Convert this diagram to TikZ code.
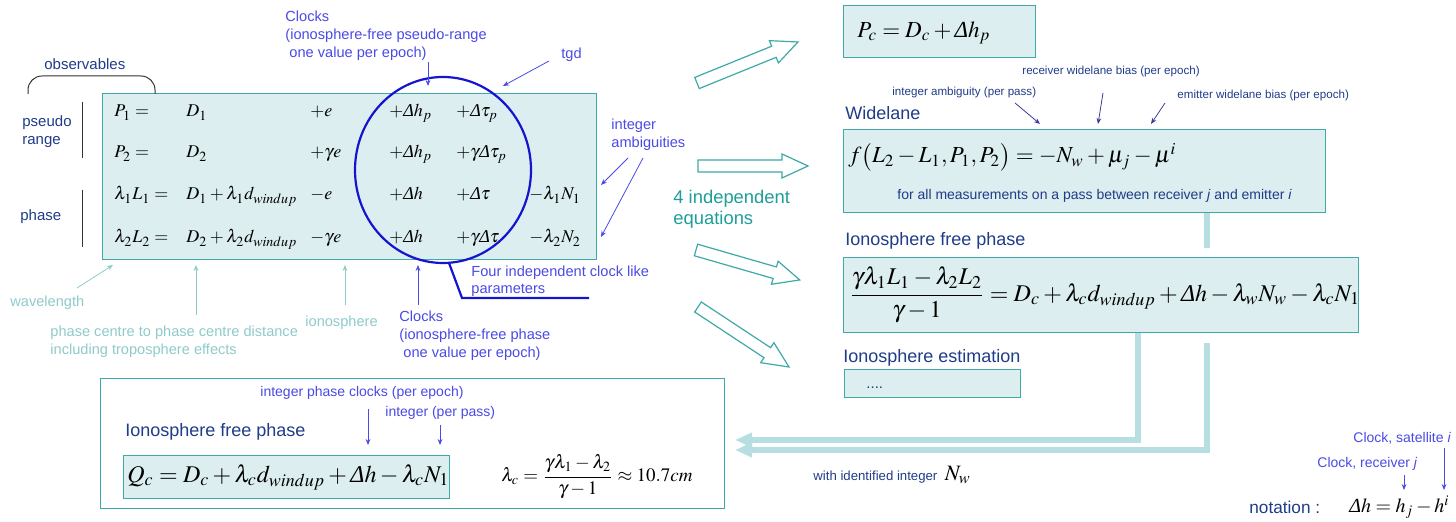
\documentclass[tikz,border=0pt]{standalone}
\usepackage{amsmath}
\usepackage{mathptmx}
\usepackage{fontspec}
\setmainfont{Liberation Sans}
\newfontfamily\tnr{Liberation Serif}
\usetikzlibrary{arrows.meta,calc,shapes.geometric}
\newcommand\Dl{\text{\tnr\itshape\symbol{"0394}}}
\definecolor{boxfill}{HTML}{DCEEEF}
\definecolor{boxline}{HTML}{3EA9A6}
\definecolor{dblue}{HTML}{1F3C88}
\definecolor{ablue}{HTML}{4A4AE6}
\definecolor{lteal}{HTML}{8FCACA}
\definecolor{ellblue}{HTML}{1515D0}
\definecolor{barc}{HTML}{B7DFE1}
\definecolor{eqteal}{HTML}{1E9E9A}
\definecolor{navyar}{HTML}{3B3B9B}
\newcommand\fsz[2]{\fontsize{#1}{#2}\selectfont}
\newcommand\blockarrow[3]{\draw[blockar, shift={#1}, rotate=#2] (0,-6) -- ({#3-26},-6) -- ({#3-26},-12) -- (#3,0) -- ({#3-26},12) -- ({#3-26},6) -- (0,6) -- cycle;}
\begin{document}
\begin{tikzpicture}[x=0.5pt,y=-0.5pt,
  box/.style={draw=boxline, fill=boxfill, line width=0.7pt, inner sep=0, anchor=north west},
  wbox/.style={draw=boxline, fill=white, line width=0.7pt, inner sep=0, anchor=north west},
  lab/.style={inner sep=0, anchor=west, text=dblue, font=\fsz{7.5}{9}},
  big/.style={inner sep=0, anchor=west, text=dblue, font=\fsz{9}{10.5}},
  small/.style={inner sep=0, anchor=west, text=dblue, font=\fsz{5.8}{7}},
  ann/.style={inner sep=0, anchor=west, text=ablue, font=\fsz{7.3}{9}, align=left},
  lt/.style={inner sep=0, anchor=west, text=lteal, font=\fsz{7.3}{9}, align=left},
  eq/.style={inner sep=0, anchor=base west, font=\fsz{9}{11}},
  beq/.style={inner sep=0, anchor=west, font=\fsz{11.5}{13}},
  aar/.style={draw=ablue, line width=0.4pt, -{Stealth[length=3pt,width=2.4pt]}},
  nar/.style={draw=navyar, line width=0.4pt, -{Stealth[length=3pt,width=2.4pt]}},
  lar/.style={draw=lteal, line width=0.4pt, -{Stealth[length=3pt,width=2.4pt]}},
  blockar/.style={draw=boxline, fill=white, line width=0.6pt, line join=miter},
  bar/.style={draw=barc, line width=2.6pt},
  bararrow/.style={draw=barc, line width=2.6pt, -{Triangle[length=8.5pt,width=7pt]}}]
\useasboundingbox (0,0) rectangle (1456,522);

% ---------- main observation box ----------
\node (main) [box, minimum width=247pt, minimum height=83pt] at (102,93) {};
\node (obs) [lab] at (44,64) {observables};
\draw[line width=0.5pt, draw=black!80, rounded corners=7pt] (28,94) -- (28,76) -- (155,76) -- (155,94);
\node (pr) [lab, anchor=north west, align=left] at (22,115) {pseudo\\range};
\node (ph) [lab] at (20,217) {phase};
\draw[line width=0.5pt, draw=black!80] (82,102) -- (82,158);
\draw[line width=0.5pt, draw=black!80] (82,190) -- (82,247);

% rows
\foreach \y/\a/\b/\c/\d/\e/\f in {
  117/{P_1 =}/{D_1}/{+e}/{+\Dl h_p}/{+\Dl\tau_p}/{},
  158/{P_2 =}/{D_2}/{+\gamma e}/{+\Dl h_p}/{+\gamma\Dl\tau_p}/{},
  200/{\lambda_1 L_1 =}/{D_1+\lambda_1 d_{windup}}/{-e}/{+\Dl h}/{+\Dl\tau}/{-\lambda_1 N_1},
  243/{\lambda_2 L_2 =}/{D_2+\lambda_2 d_{windup}}/{-\gamma e}/{+\Dl h}/{+\gamma\Dl\tau}/{-\lambda_2 N_2}}{
  \node[eq] at (114,\y) {$\a$};
  \node[eq] at (186,\y) {$\b$};
  \node[eq] at (310,\y) {$\c$};
  \node[eq] at (389,\y) {$\d$};
  \node[eq] at (456,\y) {$\e$};
  \node[eq] at (529,\y) {$\f$};
}

% ellipse
\node (ell) [draw=ellblue, line width=1.1pt, ellipse, minimum width=88pt, minimum height=93pt, inner sep=0] at (443,170) {};
\coordinate (ellbot) at (449,263);
\coordinate (ldk) at (462,298);
\coordinate (lend) at (589,298);
\draw[draw=ellblue, line width=1.1pt] (ellbot) -- (ldk) -- (lend);
\node (four) [ann, anchor=north west, font=\fsz{7.3}{8.5}] at (471,266) {Four independent clock like\\parameters};

% top annotations
\node (clk1) [ann, anchor=north west] at (285,11) {Clocks\\(ionosphere-free pseudo-range\\\ one value per epoch)};
\coordinate (c1a) at (428,62); \coordinate (c1b) at (428,86);
\draw[aar] (c1a) -- (c1b);
\node (tgd) [ann] at (561,55) {tgd};
\coordinate (tga) at (549,61); \coordinate (tgb) at (503,86);
\draw[aar] (tga) -- (tgb);
\node (ia) [ann, anchor=north west] at (611,119) {integer\\ambiguities};
\coordinate (ia1) at (628,158); \coordinate (ia1b) at (601,185);
\coordinate (ia2) at (643,158); \coordinate (ia2b) at (601,237);
\draw[aar] (ia1) -- (ia1b);
\draw[aar] (ia2) -- (ia2b);

% bottom annotations
\node (wl) [lt] at (10,303) {wavelength};
\coordinate (wla) at (77,288); \coordinate (wlb) at (113,265);
\draw[lar] (wla) -- (wlb);
\node (pc) [lt, anchor=north west] at (50,326) {phase centre to phase centre distance\\including troposphere effects};
\coordinate (pca) at (196,315); \coordinate (pcb) at (196,265);
\draw[lar] (pca) -- (pcb);
\node (ion) [lt] at (305,323) {ionosphere};
\coordinate (ioa) at (345,305); \coordinate (iob) at (345,265);
\draw[lar] (ioa) -- (iob);
\node (clk2) [ann, anchor=north west] at (399,311) {Clocks\\(ionosphere-free phase\\\ one value per epoch)};
\coordinate (c2a) at (418,305); \coordinate (c2b) at (418,265);
\draw[aar] (c2a) -- (c2b);

% block arrows
\blockarrow{(697,83)}{22.1}{109}
\blockarrow{(698,166)}{0}{110}
\blockarrow{(696,250)}{-16.1}{108}
\blockarrow{(698,307)}{-33.4}{109}
\node (four2) [inner sep=0, anchor=north west, text=eqteal, font=\fsz{9.2}{10.5}, align=left] at (673,190) {4 independent\\equations};

% feedback bars
\coordinate (ba0) at (1138,332); \coordinate (ba1) at (1138,440); \coordinate (ba2) at (735,440);
\coordinate (bb0) at (1207,212); \coordinate (bb1) at (1207,248);
\coordinate (bb2) at (1207,343); \coordinate (bb3) at (1207,450); \coordinate (bb4) at (735,450);
\draw[bararrow] (ba0) -- (ba1) -- (ba2);
\draw[bar] (bb0) -- (bb1);
\draw[bararrow] (bb2) -- (bb3) -- (bb4);

% right side boxes
\node (pcbox) [box, minimum width=96pt, minimum height=26pt] at (843,5) {};
\node (pceq) [beq] at (857,33) {$P_c = D_c + \Dl h_p$};

\node (wlt) [big] at (845,113) {Widelane};
\node (ia3) [small] at (892,93) {integer ambiguity (per pass)};
\node (rwb) [small] at (1022,72) {receiver widelane bias (per epoch)};
\node (ewb) [small] at (1177,96) {emitter widelane bias (per epoch)};
\coordinate (n1a) at (1015,103); \coordinate (n1b) at (1040,124);
\coordinate (n2a) at (1103,93); \coordinate (n2b) at (1098,124);
\coordinate (n3a) at (1165,103); \coordinate (n3b) at (1151,124);
\draw[nar] (n1a) -- (n1b);
\draw[nar] (n2a) -- (n2b);
\draw[nar] (n3a) -- (n3b);
\node (wlbox) [box, minimum width=241pt, minimum height=41.5pt] at (843,129) {};
\node (wleq) [beq] at (848,157) {$f\bigl(L_2 - L_1, P_1, P_2\bigr) = -N_w + \mu_j - \mu^i$};
\node (wlnote) [lab, font=\fsz{7}{8}] at (897,196) {for all measurements on a pass between receiver \textit{j} and emitter \textit{i}};

\node (ift) [big] at (845,241) {Ionosphere free phase};
\node (ifbox) [box, minimum width=257.5pt, minimum height=37.5pt] at (843,257) {};
\node (ifeq) [beq, font=\fsz{12}{14}] at (849,295) {$\dfrac{\gamma\lambda_1 L_1 - \lambda_2 L_2}{\gamma - 1} = D_c + \lambda_c d_{windup} + \Dl h - \lambda_w N_w - \lambda_c N_1$};

\node (iet) [big] at (843,358) {Ionosphere estimation};
\node (iebox) [box, minimum width=88pt, minimum height=14pt] at (844,369) {};
\node (dots) [inner sep=0, anchor=base west, text=dblue, font=\fsz{7.5}{9}] at (866,389) {....};

% bottom left box
\node (blbox) [wbox, minimum width=312pt, minimum height=65pt] at (100,378) {};
\node (ipc) [ann, font=\fsz{7}{8}] at (260,393) {integer phase clocks (per epoch)};
\node (ipp) [ann, font=\fsz{7}{8}] at (385,413) {integer (per pass)};
\coordinate (q1a) at (368,409); \coordinate (q1b) at (368,445);
\coordinate (q2a) at (440,425); \coordinate (q2b) at (440,445);
\draw[aar] (q1a) -- (q1b);
\draw[aar] (q2a) -- (q2b);
\node (ift2) [big] at (125,432) {Ionosphere free phase};
\node (qbox) [box, minimum width=163pt, minimum height=21.5pt] at (123,455) {};
\node (qeq) [beq, font=\fsz{12}{14}] at (127,477) {$Q_c = D_c + \lambda_c d_{windup} + \Dl h - \lambda_c N_1$};
\node (lceq) [beq, font=\fsz{9.5}{11}] at (501,477) {$\lambda_c = \dfrac{\gamma\lambda_1 - \lambda_2}{\gamma - 1} \approx 10.7 cm$};

% bottom right
\node (wid) [lab, font=\fsz{6.6}{8}] at (813,475) {with identified integer \ \textcolor{black}{\fsz{11}{13}$N_w$}};
\node (cs) [ann, font=\fsz{7}{8}] at (1353,438) {Clock, satellite \textit{i}};
\node (cr) [ann, font=\fsz{7}{8}] at (1317,464) {Clock, receiver \textit{j}};
\coordinate (r1a) at (1404,475); \coordinate (r1b) at (1404,490);
\coordinate (r2a) at (1444,448); \coordinate (r2b) at (1444,490);
\draw[aar] (r1a) -- (r1b);
\draw[aar] (r2a) -- (r2b);
\node (not) [lab, font=\fsz{8.6}{10}] at (1249,507) {notation :};
\node (noteq) [beq, font=\fsz{10}{12}] at (1349,507) {$\Dl h = h_j - h^i$};
\end{tikzpicture}
\end{document}
